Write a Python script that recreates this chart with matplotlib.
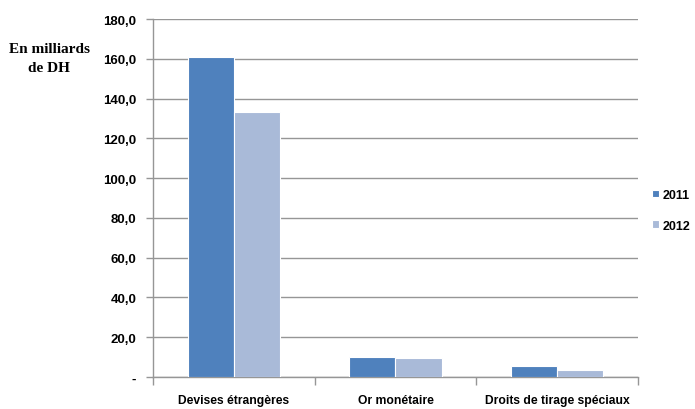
import matplotlib
matplotlib.use("Agg")
import matplotlib.pyplot as plt
import numpy as np
from matplotlib.ticker import FixedLocator

categories = ["Devises étrangères", "Or monétaire", "Droits de tirage spéciaux"]
series_names = ["2011", "2012"]
values_2011 = [161.0, 9.9, 5.6]
values_2012 = [133.2, 9.8, 3.6]
y_ticks = [0, 20, 40, 60, 80, 100, 120, 140, 160, 180]
y_tick_labels = ["-", "20,0", "40,0", "60,0", "80,0", "100,0", "120,0", "140,0", "160,0", "180,0"]

colors = ["#4F81BD", "#A9BAD8"]
sans = ["Liberation Sans Narrow", "Liberation Sans", "DejaVu Sans"]

fig = plt.figure(figsize=(6.95, 4.10), dpi=100)
ax = fig.add_axes([0.220, 0.078, 0.698, 0.873])

x = np.arange(len(categories))
w = 0.285
for i, (vals, name) in enumerate(zip([values_2011, values_2012], series_names)):
    offs = (i - 0.5) * w
    ax.bar(x + offs, vals, width=w, color=colors[i], edgecolor="white",
           linewidth=0.8, label=name, zorder=3)

ax.set_xlim(-0.5, len(categories) - 0.5)
ax.set_ylim(0, 180)
ax.set_yticks(y_ticks)
ax.set_yticklabels(y_tick_labels, fontfamily=sans, fontweight="bold", fontsize=9.5)
ax.yaxis.grid(True, color="#969696", linewidth=1.0, zorder=0)
ax.tick_params(axis="y", length=5, width=1, color="#969696", pad=7)

# category labels centred, tick marks on category boundaries
ax.set_xticks(x)
ax.set_xticklabels(categories, fontfamily=sans, fontweight="bold", fontsize=8.7)
ax.tick_params(axis="x", length=0, pad=12)
ax.xaxis.set_minor_locator(FixedLocator(np.arange(-0.5, len(categories), 1.0)))
ax.tick_params(axis="x", which="minor", length=6, width=1, color="#969696")

for s in ["top", "right"]:
    ax.spines[s].set_visible(False)
for s in ["left", "bottom"]:
    ax.spines[s].set_color("#969696")
    ax.spines[s].set_linewidth(1.0)

fig.text(0.071, 0.857, "En milliards\nde DH", ha="center", va="center",
         fontfamily=["Liberation Serif", "DejaVu Serif"], fontweight="bold",
         fontsize=11, linespacing=1.6)

leg = fig.legend(loc="center left", bbox_to_anchor=(0.938, 0.485), frameon=False,
                 handlelength=0.55, handleheight=0.55, handletextpad=0.3,
                 borderaxespad=0, borderpad=0,
                 labelspacing=1.5, prop={"family": sans, "weight": "bold", "size": 9})

fig.savefig("out.png", dpi=100)
